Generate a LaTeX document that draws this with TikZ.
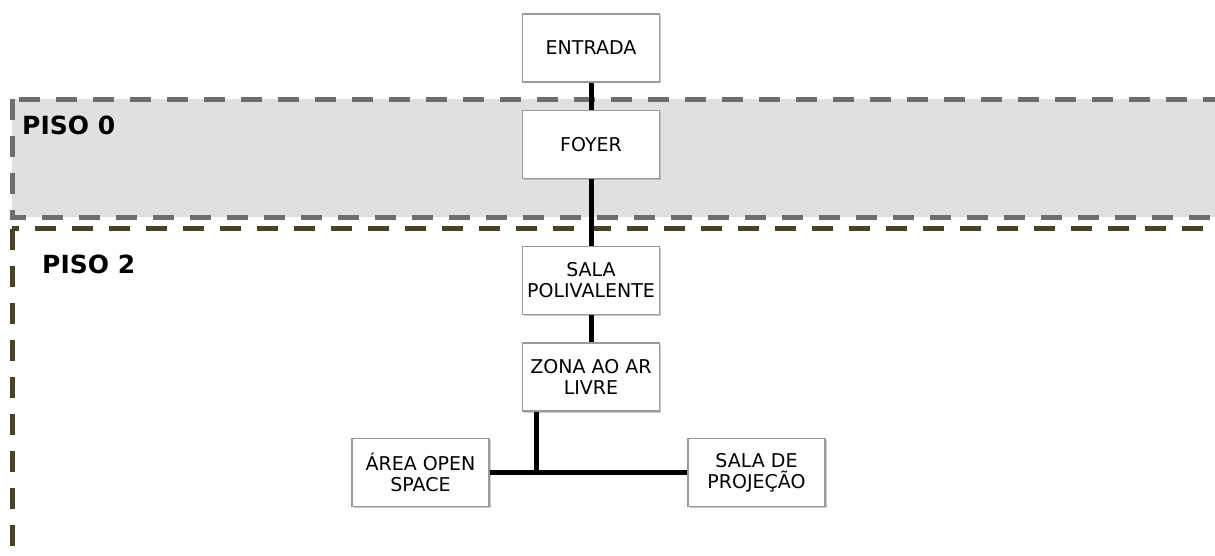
\documentclass[tikz,border=0pt]{standalone}
\usepackage{fontspec}
\setmainfont{DejaVu Sans}
\usepackage{tikz}
\usetikzlibrary{shadows, calc}

\definecolor{floorgrey}{HTML}{6E6E6E}
\definecolor{floorfill}{HTML}{E0E0E0}
\definecolor{floorolive}{HTML}{4B4422}
\definecolor{roomline}{HTML}{9A9A9A}

\begin{document}
\begin{tikzpicture}[x=1pt, y=-1pt,
    room/.style={rectangle, draw=roomline, line width=1.2pt, fill=white,
                 minimum width=137pt, minimum height=68pt, inner sep=1pt,
                 align=center, font=\fontsize{19}{21}\selectfont,
                 drop shadow={shadow xshift=1.5pt, shadow yshift=-1.5pt, opacity=0.4}},
    floor/.style={line width=5pt, dash pattern=on 21pt off 16pt},
    flabel/.style={anchor=base west, inner sep=0pt, font=\fontsize{25}{27}\selectfont\bfseries},
    link/.style={line width=5pt, black}]

  \useasboundingbox (0,0) rectangle (1215,556);
  \clip (0,0) rectangle (1215,556);

  % floors
  \draw[floor, draw=floorgrey, fill=floorfill] (12,99.5) rectangle (1240,217.5);
  \draw[floor, draw=floorolive] (12,228.5) rectangle (1240,558.2);
  \node[flabel] (piso0) at (22,135) {PISO 0};
  \node[flabel] (piso2) at (42,273) {PISO 2};

  % rooms
  \node[room] (entrada) at (591,48)    {ENTRADA};
  \node[room] (foyer)   at (591,144.5) {FOYER};
  \node[room] (sala)    at (591,280.5) {SALA\\POLIVALENTE};
  \node[room] (zona)    at (591,377)   {ZONA AO AR\\LIVRE};
  \node[room] (area)    at (420.5,472.5) {ÁREA OPEN\\SPACE};
  \node[room] (proj)    at (756.5,472.5) {SALA DE\\PROJEÇÃO};
  \coordinate (jn) at (536,472.5);

  \draw[link] (entrada) -- (foyer) -- (sala) -- (zona);
  \draw[link] (jn |- zona.south) -- (jn);
  \draw[link] (area) -- (proj);
\end{tikzpicture}
\end{document}
